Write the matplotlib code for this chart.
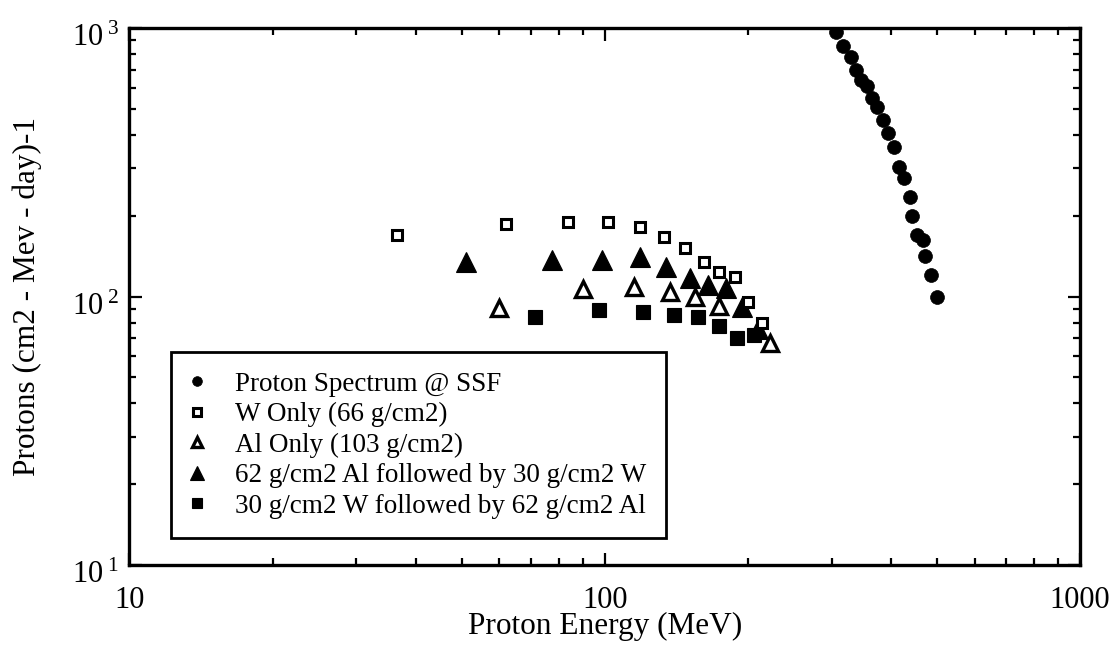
import matplotlib

matplotlib.use("Agg")
import matplotlib.pyplot as plt
from matplotlib.ticker import FixedLocator, FixedFormatter, LogLocator, NullFormatter
from matplotlib.transforms import ScaledTranslation

plt.rcParams["font.family"] = ["Liberation Serif", "DejaVu Serif"]
plt.rcParams["mathtext.fontset"] = "custom"
plt.rcParams["mathtext.rm"] = "Liberation Serif"
plt.rcParams["mathtext.it"] = "Liberation Serif:italic"
plt.rcParams["mathtext.bf"] = "Liberation Serif:bold"

# proton spectrum at the SSF and behind the shield options
ssf_energy = [306.5, 316.5, 329, 337.7, 345.9, 356.6, 364.3, 374.4, 385.4, 394.8,
              405.9, 416.5, 426.1, 438.7, 443.6, 454.5, 467.9, 471.7, 485, 499.3]
ssf_flux = [969, 859, 782, 698, 640, 608, 547, 507, 454, 405,
            361, 303, 276, 234, 200, 169, 163, 142, 120, 100]

w_energy = [36.6, 62.0, 83.7, 101.6, 118.5, 133.0, 147.2, 161.4, 174.0, 188.0, 200.0, 214.3]
w_flux = [169, 186, 190, 190, 182, 166, 151, 135, 123, 118, 95.6, 79.9]

al_energy = [59.8, 90.0, 115.4, 136.9, 155.0, 174.0, 223.0]
al_flux = [90.8, 106.4, 108.8, 104.2, 99.3, 92.2, 67.4]

alw_energy = [51.1, 77.4, 98.9, 118.8, 134.7, 150.9, 165.1, 180.3, 194.8, 210.5]
alw_flux = [134.8, 136.8, 136.8, 140.7, 128.5, 116.9, 110.4, 107.6, 91.6, 75.7]

wal_energy = [71.4, 97.4, 120.2, 139.6, 156.8, 173.8, 190.1, 206.4]
wal_flux = [83.7, 89.1, 87.6, 85.3, 83.7, 78.0, 70.2, 71.9]

labels = ["Proton Spectrum @ SSF",
          "W Only (66 g/cm2)",
          "Al Only (103 g/cm2)",
          "62 g/cm2 Al followed by 30 g/cm2 W",
          "30 g/cm2 W followed by 62 g/cm2 Al"]

x_ticks = [10, 100, 1000]
x_ticklabels = ["10", "100", "1000"]
y_ticks = [10, 100, 1000]
y_ticklabels = [r"$\mathrm{10}^{\;1}$", r"$\mathrm{10}^{\;2}$", r"$\mathrm{10}^{\;3}$"]

fig = plt.figure(figsize=(11.2, 6.52), dpi=100)
ax = fig.add_axes([0.1156, 0.1334, 0.8487, 0.8236])

h_wal, = ax.plot(wal_energy, wal_flux, ls="none", marker="s", ms=9.5,
                 mfc="black", mec="black", mew=0.8)
h_alw, = ax.plot(alw_energy, alw_flux, ls="none", marker="^", ms=14,
                 mfc="black", mec="black", mew=0.8)
h_al, = ax.plot(al_energy, al_flux, ls="none", marker="^", ms=11,
                mfc="white", mec="black", mew=2.4)
h_w, = ax.plot(w_energy, w_flux, ls="none", marker="s", ms=7.3,
               mfc="white", mec="black", mew=2.2)
h_ssf, = ax.plot(ssf_energy, ssf_flux, ls="none", marker="o", ms=10,
                 mfc="black", mec="black", mew=0.5)

ax.set_xscale("log")
ax.set_yscale("log")
ax.set_xlim(10, 1000)
ax.set_ylim(10, 1000)

ax.xaxis.set_major_locator(FixedLocator(x_ticks))
ax.xaxis.set_major_formatter(FixedFormatter(x_ticklabels))
ax.yaxis.set_major_locator(FixedLocator(y_ticks))
ax.yaxis.set_major_formatter(FixedFormatter(y_ticklabels))
for axis in (ax.xaxis, ax.yaxis):
    axis.set_minor_locator(LogLocator(base=10, subs=range(2, 10)))
    axis.set_minor_formatter(NullFormatter())

ax.tick_params(which="both", direction="in", top=True, right=True,
               color="black", width=1.6)
ax.tick_params(which="major", length=9)
ax.tick_params(which="minor", length=5)
ax.tick_params(axis="x", which="major", labelsize=22, pad=15)
ax.tick_params(axis="y", which="major", labelsize=22, pad=8)

# nudge the decade labels a little below their ticks
shift = ScaledTranslation(0, -7 / 100, fig.dpi_scale_trans)
for lbl in ax.get_yticklabels():
    lbl.set_transform(lbl.get_transform() + shift)

for sp in ax.spines.values():
    sp.set_linewidth(2.4)
    sp.set_color("black")

ax.set_xlabel("Proton Energy (MeV)", fontsize=22.5)
ax.set_ylabel("Protons (cm2 - Mev - day)-1", fontsize=22.5)
ax.xaxis.set_label_coords(0.5, -0.088)
ax.yaxis.set_label_coords(-0.092, 0.5)

leg = ax.legend([h_ssf, h_w, h_al, h_alw, h_wal], labels,
                loc="lower left", bbox_to_anchor=(0.0437, 0.0503),
                borderaxespad=0, fontsize=19.5, markerscale=0.7,
                handlelength=0.45, handletextpad=1.2, borderpad=0.72,
                labelspacing=0.2, frameon=True, fancybox=False)
frame = leg.get_frame()
frame.set_edgecolor("black")
frame.set_linewidth(2.0)
frame.set_alpha(1)

fig.savefig("out.png", dpi=100, facecolor="white")
